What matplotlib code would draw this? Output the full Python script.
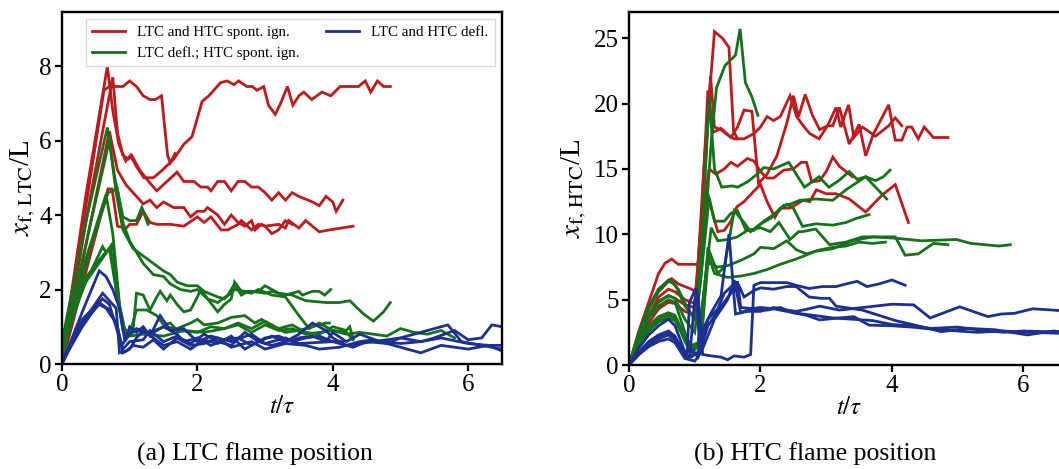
import matplotlib
matplotlib.use("Agg")
import matplotlib.pyplot as plt

plt.rcParams['font.family'] = 'serif'
plt.rcParams['font.serif'] = ['Liberation Serif', 'DejaVu Serif']
plt.rcParams['mathtext.fontset'] = 'stix'

RED = '#be1a1d'
GREEN = '#16721a'
BLUE = '#1c2f92'

# --- LTC flame position, (t/tau, x_f/L) ---
ltc_spont_a = [(0, 0.2), (0.35, 4.5), (0.67, 7.99), (0.75, 6.8), (0.84, 5.9), (0.94, 5.45), (1.01, 5.6),
               (1.1, 5.3), (1.21, 5.0), (1.35, 5.0), (1.48, 5.2), (1.65, 5.5), (1.8, 5.9), (1.92, 6.1),
               (2.07, 7.05), (2.17, 7.2), (2.34, 7.55), (2.44, 7.6), (2.54, 7.5), (2.61, 7.6), (2.73, 7.45),
               (2.81, 7.45), (2.88, 7.35), (2.98, 7.45), (3.05, 6.95), (3.15, 6.7), (3.23, 7.0), (3.33, 7.45),
               (3.41, 6.95), (3.5, 7.2), (3.57, 7.3), (3.69, 7.1), (3.84, 7.3), (3.97, 7.2), (4.11, 7.45),
               (4.38, 7.45), (4.48, 7.6), (4.56, 7.3), (4.66, 7.6), (4.75, 7.45), (4.85, 7.45)]
ltc_spont_b = [(0, 0.1), (0.35, 4.2), (0.62, 7.35), (0.7, 7.45), (0.9, 7.45), (1.0, 7.6), (1.1, 7.45),
               (1.2, 7.2), (1.3, 7.1), (1.38, 7.1), (1.47, 7.2), (1.56, 5.6), (1.6, 5.4), (1.67, 5.65)]
ltc_spont_c = [(0, 0), (0.4, 4.3), (0.75, 7.7), (0.82, 6.2), (0.9, 5.6), (0.98, 5.5), (1.03, 5.6), (1.15, 5.2),
               (1.28, 4.9), (1.4, 4.65), (1.55, 4.9), (1.7, 5.15), (1.8, 4.9), (1.95, 4.9), (2.05, 4.75),
               (2.15, 4.75), (2.2, 4.65), (2.3, 4.9), (2.4, 4.9), (2.5, 4.65), (2.6, 4.9), (2.7, 4.9),
               (2.8, 4.75), (2.9, 4.75), (3.0, 4.6), (3.1, 4.4), (3.2, 4.6), (3.3, 4.4), (3.4, 4.6),
               (3.5, 4.5), (3.7, 4.35), (3.8, 4.25), (3.9, 4.5), (4.0, 4.35), (4.05, 4.1), (4.15, 4.4)]
ltc_spont_d = [(0, 0), (0.4, 3.6), (0.7, 6.25), (0.82, 5.2), (0.95, 4.8), (1.05, 4.6), (1.2, 4.3), (1.3, 4.4),
               (1.4, 4.2), (1.5, 4.35), (1.65, 4.2), (1.8, 4.2), (1.9, 3.95), (2.0, 4.1), (2.1, 4.1),
               (2.15, 4.2), (2.3, 4.0), (2.4, 3.75), (2.5, 4.0), (2.6, 3.8), (2.7, 3.7), (2.8, 3.85),
               (2.85, 3.6), (2.95, 3.75), (3.0, 3.7), (3.1, 3.5), (3.2, 3.6), (3.3, 3.85), (3.4, 3.75)]
ltc_spont_e = [(0, 0), (0.4, 2.8), (0.68, 4.7), (0.74, 4.7), (0.82, 3.7), (0.95, 3.65), (1.0, 3.75),
               (1.1, 3.75), (1.2, 4.1), (1.3, 3.8), (1.4, 3.75), (1.6, 3.75), (1.8, 3.7), (2.0, 3.95),
               (2.1, 3.8), (2.2, 3.95), (2.35, 3.6), (2.45, 3.6), (2.6, 3.75), (2.65, 3.85), (2.8, 3.6),
               (2.9, 3.75), (3.0, 3.7), (3.2, 3.75), (3.3, 3.65), (3.35, 3.85), (3.5, 3.65), (3.6, 3.85),
               (3.8, 3.55), (3.95, 3.6), (4.3, 3.7)]

ltc_mixed_a = [(0, 0.6), (0.35, 3.8), (0.67, 6.35), (0.78, 5.0), (0.9, 3.95), (1.0, 3.85), (1.1, 3.85),
               (1.18, 4.2), (1.27, 3.75)]
ltc_mixed_b = [(0, 0.3), (0.4, 3.6), (0.7, 6.0), (0.8, 4.6), (0.9, 3.6), (1.05, 3.1), (1.2, 2.9), (1.35, 2.7),
               (1.5, 2.5), (1.6, 2.4), (1.7, 2.2), (1.85, 2.1), (2.0, 2.1), (2.1, 1.95), (2.3, 1.8),
               (2.4, 1.75), (2.55, 2.0), (2.7, 1.95), (2.8, 1.95), (3.0, 1.9), (3.1, 1.95), (3.3, 1.85),
               (3.5, 1.95), (3.55, 1.85), (3.7, 1.95), (3.8, 1.95), (3.88, 1.85), (3.97, 2.0)]
ltc_mixed_c = [(0, 0.2), (0.4, 3.0), (0.68, 4.6), (0.82, 4.7), (0.9, 3.8), (1.0, 3.3), (1.1, 3.0), (1.2, 2.7),
               (1.35, 2.4), (1.5, 2.35), (1.6, 2.15), (1.75, 2.0), (1.9, 1.95), (2.0, 2.0), (2.15, 1.75),
               (2.3, 1.65), (2.45, 1.85), (2.55, 2.15), (2.65, 1.85), (2.75, 1.95), (2.9, 1.95), (3.0, 2.1),
               (3.2, 1.9), (3.4, 1.85), (3.6, 1.7), (3.9, 1.65), (4.1, 1.65), (4.25, 1.7), (4.45, 1.35),
               (4.6, 1.15), (4.75, 1.4), (4.85, 1.65)]
ltc_mixed_d = [(0, 0.1), (0.35, 2.8), (0.65, 4.55), (0.75, 3.5), (0.85, 1.6), (0.95, 0.7), (1.05, 0.9),
               (1.1, 1.9), (1.2, 1.85), (1.3, 1.45), (1.4, 1.8), (1.45, 1.95), (1.55, 1.7), (1.6, 1.85),
               (1.7, 1.6), (1.8, 1.4), (1.9, 1.45), (2.0, 1.8), (2.05, 2.0), (2.15, 1.75), (2.3, 1.4),
               (2.4, 1.6), (2.5, 1.75), (2.55, 2.2), (2.65, 1.95), (2.8, 1.9), (2.9, 2.0), (3.1, 1.85),
               (3.3, 1.8), (3.5, 1.3), (3.65, 0.95), (3.8, 1.1), (4.0, 0.9), (4.2, 0.85), (4.3, 0.65)]
ltc_mixed_e = [(0, 0.4), (0.3, 2.0), (0.6, 3.15), (0.65, 3.0), (0.7, 3.1), (0.8, 2.0), (0.9, 1.0), (1.0, 0.8),
               (1.1, 1.45), (1.25, 1.45), (1.4, 1.3), (1.5, 1.05), (1.6, 1.1), (1.7, 0.9), (2.0, 0.85),
               (2.2, 1.0), (2.4, 0.95), (2.6, 1.05), (2.8, 0.85), (3.0, 1.05), (3.2, 0.9), (3.4, 0.95),
               (3.6, 0.8), (3.8, 0.85), (4.0, 0.9), (4.2, 0.8), (4.4, 0.85), (4.6, 0.8), (4.8, 0.75),
               (5.0, 0.95), (5.2, 0.85), (5.4, 0.8), (5.6, 0.9), (5.8, 0.7)]
ltc_mixed_f = [(0, 0.5), (0.35, 2.2), (0.68, 3.05), (0.75, 3.25), (0.85, 1.5), (0.95, 0.75), (1.1, 0.9),
               (1.3, 0.85), (1.5, 1.0), (1.7, 0.95), (1.9, 1.1), (2.0, 1.2), (2.1, 1.05), (2.3, 1.1),
               (2.5, 1.25), (2.7, 1.3), (2.85, 1.1), (2.95, 1.2), (3.1, 1.0), (3.3, 0.85), (3.5, 0.9),
               (3.7, 1.0), (3.9, 1.1), (3.95, 1.1)]
ltc_mixed_g = [(0, 0.7), (0.3, 2.2), (0.62, 2.95), (0.72, 3.1), (0.8, 2.0), (0.9, 0.9), (1.0, 0.75),
               (1.2, 0.8), (1.5, 0.75), (1.8, 0.9), (2.1, 0.85), (2.4, 0.95), (2.6, 1.1), (2.8, 0.95),
               (3.0, 1.15), (3.2, 0.95), (3.4, 1.05), (3.6, 0.85), (3.8, 0.8), (4.0, 1.0), (4.2, 0.9),
               (4.25, 1.0), (4.3, 0.7)]

ltc_defl_a = [(0, 0), (0.3, 1.4), (0.55, 2.5), (0.65, 2.35), (0.75, 2.0), (0.85, 1.5), (0.93, 0.6), (1.0, 1.0),
              (1.1, 0.85), (1.2, 1.0), (1.3, 0.75), (1.45, 1.3), (1.6, 0.9), (1.8, 0.95), (2.0, 0.6),
              (2.2, 0.75), (2.5, 0.6), (2.8, 0.8), (3.0, 0.55), (3.3, 0.7), (3.5, 0.55), (4.0, 0.6),
              (4.3, 0.45), (4.5, 0.6), (4.8, 0.55), (5.0, 0.7), (5.3, 0.6), (5.5, 0.7), (5.8, 0.9),
              (6.0, 0.65), (6.2, 0.7), (6.35, 1.05), (6.5, 1.0)]
ltc_defl_b = [(0, 0), (0.3, 1.1), (0.6, 1.9), (0.65, 1.8), (0.8, 1.5), (0.85, 0.3), (0.95, 0.35), (1.05, 0.5),
              (1.2, 0.45), (1.35, 0.65), (1.5, 0.4), (1.7, 0.7), (1.9, 0.5), (2.1, 0.55), (2.3, 0.7),
              (2.5, 0.45), (2.8, 0.6), (3.0, 0.4), (3.3, 0.55), (3.6, 0.5), (3.8, 0.4), (4.1, 0.45),
              (4.4, 0.6), (4.6, 0.65), (4.9, 0.5), (5.3, 0.3), (5.6, 0.5), (6.0, 0.4), (6.3, 0.5), (6.5, 0.35)]
ltc_defl_c = [(0, 0.05), (0.3, 1.0), (0.55, 1.65), (0.7, 1.45), (0.82, 1.0), (0.9, 0.3), (1.0, 0.4),
              (1.1, 0.7), (1.2, 0.9), (1.35, 0.7), (1.5, 0.5), (1.7, 0.6), (1.9, 0.4), (2.1, 0.65),
              (2.3, 0.55), (2.5, 0.75), (2.7, 0.4), (2.9, 0.6), (3.1, 0.5), (3.3, 0.6), (3.5, 0.8),
              (3.7, 1.1), (3.9, 0.9), (4.0, 0.7), (4.2, 0.5), (4.6, 0.6), (5.0, 0.7), (5.5, 0.95),
              (5.7, 1.05), (5.9, 0.6), (6.2, 0.5), (6.5, 0.4)]
ltc_defl_d = [(0, 0.1), (0.3, 1.1), (0.55, 1.6), (0.65, 1.5), (0.8, 1.1), (0.9, 0.4), (1.0, 0.6), (1.2, 0.65),
              (1.3, 0.9), (1.5, 0.6), (1.7, 0.75), (1.9, 0.55), (2.1, 0.8), (2.3, 0.6), (2.5, 0.5),
              (2.7, 0.85), (2.9, 0.6), (3.1, 0.75), (3.3, 0.6), (3.5, 0.7), (3.7, 0.75), (3.9, 0.6),
              (4.0, 0.85), (4.2, 0.6), (4.4, 0.8), (4.7, 0.6), (5.0, 0.55), (5.3, 0.6), (5.6, 0.7),
              (6.0, 0.55), (6.3, 0.5), (6.5, 0.5)]
ltc_defl_e = [(0, 0), (0.3, 1.2), (0.6, 1.75), (0.7, 1.6), (0.88, 0.5), (1.0, 0.8), (1.1, 0.95), (1.3, 0.8),
              (1.5, 1.0), (1.7, 0.8), (1.8, 0.6), (2.0, 0.7), (2.2, 0.5), (2.4, 0.65), (2.6, 0.7), (2.8, 0.5),
              (3.0, 0.7), (3.2, 0.75), (3.4, 0.6), (3.6, 0.7), (3.8, 0.75), (4.0, 0.6), (4.15, 0.6)]

# --- HTC flame position ---
htc_spont_a = [(0, 0), (0.15, 2.3), (0.3, 4.3), (0.45, 5.8), (0.6, 6.5), (0.65, 6.6), (0.75, 6.2), (0.85, 6.0),
               (0.95, 5.8), (1.05, 5.5), (1.15, 14.0), (1.24, 22.1), (1.3, 18.2), (1.4, 18.0), (1.5, 17.6),
               (1.6, 17.3), (1.75, 17.3), (1.9, 17.7), (2.0, 18.2), (2.1, 19.0), (2.2, 18.7), (2.3, 19.0),
               (2.45, 20.6), (2.55, 19.0), (2.65, 18.3), (2.75, 17.7), (2.89, 17.3), (3.02, 18.3), (3.1, 18.3),
               (3.2, 19.7), (3.35, 16.9), (3.5, 18.4), (3.6, 16.0), (3.72, 17.7), (3.95, 19.9), (4.05, 17.2),
               (4.15, 17.2), (4.23, 18.2), (4.3, 18.2), (4.4, 17.3), (4.49, 18.2), (4.63, 17.4), (4.85, 17.4)]
htc_spont_b = [(0, 0), (0.15, 2.6), (0.3, 4.8), (0.45, 7.0), (0.55, 7.8), (0.65, 8.1), (0.75, 7.7), (0.9, 7.7),
               (1.05, 7.7), (1.15, 16.0), (1.3, 25.5), (1.42, 25.0), (1.52, 24.3), (1.59, 17.9), (1.65, 17.3)]
htc_spont_c = [(0, 0), (0.15, 2.0), (0.3, 3.8), (0.45, 5.2), (0.6, 5.8), (0.7, 5.6), (0.85, 5.0), (1.0, 4.7),
               (1.1, 11.0), (1.2, 21.0), (1.28, 17.8), (1.4, 18.1), (1.55, 17.4), (1.65, 18.2), (1.75, 19.5),
               (1.87, 19.4), (1.97, 13.9), (2.1, 14.6), (2.25, 16.0), (2.4, 18.5), (2.5, 20.6), (2.58, 19.0),
               (2.68, 20.7), (2.79, 19.1), (2.9, 18.0), (3.02, 18.3), (3.15, 19.7), (3.22, 18.2), (3.34, 19.9),
               (3.42, 17.4), (3.55, 18.2), (3.75, 17.5), (3.95, 18.3), (4.05, 18.9), (4.15, 18.3)]
htc_spont_d = [(0, 0), (0.15, 1.9), (0.3, 3.6), (0.45, 4.9), (0.6, 5.3), (0.7, 5.1), (0.85, 4.6), (1.0, 4.4),
               (1.1, 11.0), (1.22, 15.0), (1.32, 14.6), (1.45, 15.0), (1.55, 15.5), (1.65, 15.2), (1.8, 15.8),
               (1.9, 15.6), (2.0, 14.8), (2.1, 14.3), (2.2, 14.3), (2.35, 14.9), (2.5, 15.0), (2.62, 15.5),
               (2.7, 15.5), (2.78, 14.0), (2.9, 14.1), (3.0, 14.8), (3.1, 15.9), (3.2, 15.2), (3.4, 14.4)]
htc_spont_e = [(0, 0), (0.15, 1.7), (0.3, 3.2), (0.45, 4.3), (0.6, 4.8), (0.7, 4.7), (0.85, 4.1), (1.0, 3.9),
               (1.1, 9.0), (1.18, 13.5), (1.25, 12.0), (1.35, 10.2), (1.45, 10.3), (1.55, 11.0), (1.64, 12.1),
               (1.75, 12.5), (1.9, 13.3), (2.0, 13.8), (2.1, 12.5), (2.22, 11.3), (2.3, 12.0), (2.45, 12.0),
               (2.55, 12.3), (2.65, 12.6), (2.75, 12.5), (2.85, 13.4), (3.0, 13.1), (3.15, 13.1), (3.35, 12.7),
               (3.6, 11.7), (3.85, 13.0), (4.05, 13.8), (4.25, 10.9)]

htc_mixed_a = [(0, 0), (0.15, 2.5), (0.3, 4.5), (0.45, 5.8), (0.62, 6.5), (0.75, 5.8), (0.9, 4.2), (1.0, 3.5),
               (1.08, 6.0), (1.15, 10.0), (1.25, 17.0), (1.33, 21.2), (1.46, 22.9), (1.62, 23.7), (1.69, 25.7),
               (1.77, 21.6), (1.87, 20.5), (1.96, 19.1)]
htc_mixed_b = [(0, 0), (0.15, 2.4), (0.3, 4.3), (0.45, 5.6), (0.6, 6.4), (0.7, 6.2), (0.85, 4.5), (1.0, 3.6),
               (1.1, 9.0), (1.22, 20.5), (1.3, 15.0), (1.41, 13.6), (1.57, 13.7), (1.65, 13.6), (1.8, 14.0),
               (1.95, 14.6), (2.05, 15.1), (2.2, 15.0), (2.43, 15.5), (2.58, 14.3), (2.67, 13.6), (2.89, 14.4),
               (3.04, 13.6), (3.19, 14.1), (3.35, 14.8), (3.47, 14.2), (3.6, 14.4), (3.75, 14.1), (3.87, 14.4),
               (3.97, 14.9)]
htc_mixed_c = [(0, 0), (0.15, 2.1), (0.3, 3.8), (0.45, 4.8), (0.6, 5.3), (0.7, 5.1), (0.85, 3.5), (1.0, 2.5),
               (1.1, 7.0), (1.22, 12.8), (1.3, 11.0), (1.45, 11.0), (1.55, 11.6), (1.65, 11.8), (1.78, 10.3),
               (1.9, 10.3), (2.05, 11.0), (2.2, 11.5), (2.35, 12.2), (2.45, 12.3), (2.6, 12.6), (2.84, 12.7),
               (3.1, 12.6), (3.3, 13.4), (3.6, 14.4), (3.75, 13.6), (3.92, 12.7)]
htc_mixed_d = [(0, 0), (0.15, 2.0), (0.3, 3.6), (0.45, 4.5), (0.6, 5.0), (0.7, 4.8), (0.85, 2.5), (0.95, 1.0),
               (1.05, 1.5), (1.15, 6.0), (1.25, 10.5), (1.35, 9.5), (1.5, 9.6), (1.65, 9.8), (1.8, 10.3),
               (2.0, 10.5), (2.15, 10.2), (2.28, 10.9), (2.45, 9.6), (2.58, 10.2), (2.64, 10.2), (2.84, 10.4),
               (3.05, 9.2), (3.3, 9.4), (3.55, 9.8), (3.75, 9.8), (4.05, 9.8), (4.2, 8.4), (4.4, 8.5),
               (4.63, 9.3), (4.85, 9.2)]
htc_mixed_e = [(0, 0), (0.15, 1.7), (0.3, 3.0), (0.45, 3.7), (0.6, 4.0), (0.7, 3.8), (0.85, 2.2), (0.95, 1.5),
               (1.1, 1.8), (1.2, 9.0), (1.35, 7.0), (1.45, 7.5), (1.6, 11.8), (1.75, 10.9), (1.85, 10.2),
               (2.0, 10.8), (2.15, 11.2), (2.3, 11.9), (2.4, 12.3), (2.5, 12.0), (2.64, 10.6), (2.84, 10.8),
               (3.1, 10.7), (3.3, 10.9), (3.45, 11.2), (3.65, 11.5)]
htc_mixed_f = [(0, 0), (0.15, 1.6), (0.3, 2.8), (0.45, 3.5), (0.6, 3.8), (0.7, 3.6), (0.85, 1.8), (0.95, 0.8),
               (1.05, 1.5), (1.2, 8.5), (1.3, 7.0), (1.5, 6.7), (1.7, 6.8), (1.9, 7.0), (2.1, 7.3), (2.3, 7.7),
               (2.54, 8.1), (2.84, 8.7), (3.1, 8.9), (3.4, 9.5), (3.7, 9.8), (4.05, 9.7), (4.45, 9.5),
               (4.98, 9.6), (5.2, 9.3), (5.63, 9.1), (5.8, 9.2)]
htc_mixed_g = [(0, 0), (0.15, 1.5), (0.3, 2.6), (0.45, 3.3), (0.6, 3.6), (0.7, 3.4), (0.85, 2.0), (0.95, 1.2),
               (1.1, 2.0), (1.2, 7.8), (1.35, 7.5), (1.5, 7.6), (1.7, 8.0), (1.9, 8.5), (2.0, 9.0), (2.2, 8.9),
               (2.4, 9.5), (2.55, 8.8), (2.7, 8.5), (2.9, 8.8), (3.1, 9.0), (3.3, 9.1), (3.5, 9.4), (3.7, 9.3),
               (3.9, 9.4)]

htc_defl_a = [(0, 0), (0.15, 1.3), (0.3, 2.3), (0.45, 3.0), (0.6, 3.5), (0.7, 3.0), (0.85, 1.0), (0.92, 0.5),
              (1.0, 5.0), (1.05, 5.5), (1.12, 0.8), (1.25, 0.7), (1.4, 0.6), (1.5, 0.4), (1.6, 0.7), (1.75, 0.6),
              (1.85, 0.8), (1.9, 6.1), (2.0, 6.3), (2.2, 6.3), (2.4, 6.3), (2.54, 6.1), (2.74, 5.85), (2.94, 6.0),
              (3.15, 6.0), (3.3, 6.2), (3.47, 6.4), (3.62, 6.0), (3.8, 6.2), (4.0, 6.5), (4.2, 6.1)]
htc_defl_b = [(0, 0), (0.15, 1.0), (0.3, 1.8), (0.45, 2.3), (0.6, 2.6), (0.7, 2.2), (0.85, 0.8), (0.95, 0.6),
              (1.05, 1.0), (1.15, 3.0), (1.25, 4.0), (1.4, 5.3), (1.52, 10.0), (1.62, 3.9), (1.8, 4.1),
              (2.0, 4.1), (2.2, 4.4), (2.4, 4.2), (2.54, 4.1), (2.69, 4.25), (2.9, 4.5), (3.2, 4.2),
              (3.65, 4.45), (4.0, 4.65), (4.33, 4.6), (4.58, 3.6), (5.03, 4.45), (5.46, 3.7), (5.66, 3.9),
              (5.86, 3.95), (6.14, 4.3), (6.45, 4.2), (6.7, 4.1)]
htc_defl_c = [(0, 0), (0.15, 0.9), (0.3, 1.7), (0.45, 2.2), (0.6, 2.5), (0.7, 2.1), (0.88, 0.5), (0.92, 4.8),
              (1.02, 5.9), (1.08, 0.9), (1.2, 3.5), (1.35, 4.3), (1.45, 5.5), (1.6, 6.2), (1.67, 6.1),
              (1.75, 5.2), (1.9, 5.7), (2.0, 5.9), (2.2, 5.8), (2.4, 6.0), (2.54, 6.0), (2.74, 5.2),
              (2.92, 5.1), (3.05, 5.1), (3.15, 4.5), (3.55, 4.2), (3.8, 3.8), (4.05, 3.4), (4.35, 3.05),
              (4.75, 2.55), (5.16, 2.8), (5.56, 2.7), (6.06, 2.3), (6.45, 2.6), (6.7, 2.5)]
htc_defl_d = [(0, 0), (0.15, 0.8), (0.3, 1.5), (0.45, 2.0), (0.6, 2.3), (0.7, 1.9), (0.85, 0.9), (0.95, 1.2),
              (1.05, 0.6), (1.2, 3.0), (1.4, 4.5), (1.6, 5.8), (1.65, 6.4), (1.7, 4.4), (1.9, 4.3), (2.1, 4.2),
              (2.3, 4.4), (2.5, 4.0), (2.7, 3.8), (2.9, 3.45), (3.2, 3.6), (3.42, 3.7), (3.65, 3.05),
              (4.0, 3.0), (4.3, 2.9), (4.7, 2.7), (5.0, 2.6), (5.3, 2.5), (5.7, 2.6), (6.1, 2.5), (6.7, 2.4)]
htc_defl_e = [(0, 0), (0.15, 0.8), (0.3, 1.4), (0.45, 1.8), (0.6, 2.0), (0.7, 1.7), (0.85, 0.5), (1.0, 0.3),
              (1.1, 1.0), (1.3, 3.5), (1.5, 5.0), (1.6, 6.5), (1.7, 4.0), (1.85, 4.3), (2.0, 4.4), (2.2, 4.3),
              (2.5, 4.0), (2.8, 3.8), (3.1, 3.6), (3.4, 3.5), (3.7, 3.4), (4.0, 3.1), (4.3, 3.0), (4.6, 2.8),
              (5.0, 2.9), (5.3, 2.7), (5.7, 2.5), (6.0, 2.6), (6.7, 2.5)]

ltc_groups = [
    ([ltc_spont_a, ltc_spont_b, ltc_spont_c, ltc_spont_d, ltc_spont_e], RED),
    ([ltc_mixed_a, ltc_mixed_b, ltc_mixed_c, ltc_mixed_d, ltc_mixed_e, ltc_mixed_f, ltc_mixed_g], GREEN),
    ([ltc_defl_a, ltc_defl_b, ltc_defl_c, ltc_defl_d, ltc_defl_e], BLUE),
]
htc_groups = [
    ([htc_spont_a, htc_spont_b, htc_spont_c, htc_spont_d, htc_spont_e], RED),
    ([htc_mixed_a, htc_mixed_b, htc_mixed_c, htc_mixed_d, htc_mixed_e, htc_mixed_f, htc_mixed_g], GREEN),
    ([htc_defl_a, htc_defl_b, htc_defl_c, htc_defl_d, htc_defl_e], BLUE),
]
legend_labels = ['LTC and HTC spont. ign.', 'LTC defl.; HTC spont. ign.', 'LTC and HTC defl.']


def draw(ax, groups):
    handles = []
    for runs, color in groups:
        for run in runs:
            t, x = zip(*run)
            line, = ax.plot(t, x, color=color, lw=2.0, solid_joinstyle='miter')
        handles.append(line)
    for side in ['top', 'right', 'bottom', 'left']:
        ax.spines[side].set_linewidth(1.7)
    ax.tick_params(direction='out', length=5, width=1.6, labelsize=18, pad=2.5)
    ax.set_xlabel(r'$t/\tau$', fontsize=18, labelpad=0)
    return handles


fig = plt.figure(figsize=(10.59, 4.69), dpi=100)
ax = fig.add_axes([62 / 1059, 105 / 469, 440 / 1059, 352 / 469])
bx = fig.add_axes([629 / 1059, 104 / 469, 440.5 / 1059, 353 / 469])

h = draw(ax, ltc_groups)
ax.set_xlim(0, 6.5)
ax.set_ylim(0, 9.45)
ax.set_xticks([0, 2, 4, 6])
ax.set_yticks([0, 2, 4, 6, 8])
ax.set_ylabel(r'$x_{\mathrm{f,\,LTC}}$/L', fontsize=21, labelpad=1)
ax.legend(h, legend_labels, ncol=2, loc='upper right', fontsize=10.8, handlelength=2.2,
          columnspacing=1.8, borderaxespad=0.5, fancybox=False, framealpha=1, edgecolor='#d8d8d8')

draw(bx, htc_groups)
bx.set_xlim(0, 6.7)
bx.set_ylim(0, 27)
bx.set_xticks([0, 2, 4, 6])
bx.set_yticks([0, 5, 10, 15, 20, 25])
bx.set_ylabel(r'$x_{\mathrm{f,\,HTC}}$/L', fontsize=21, labelpad=3)

fig.text(255 / 1059, 15 / 469, '(a) LTC flame position', ha='center', va='center', fontsize=18.5)
fig.text(815 / 1059, 15 / 469, '(b) HTC flame position', ha='center', va='center', fontsize=18.5)

fig.savefig('out.png', dpi=100)
